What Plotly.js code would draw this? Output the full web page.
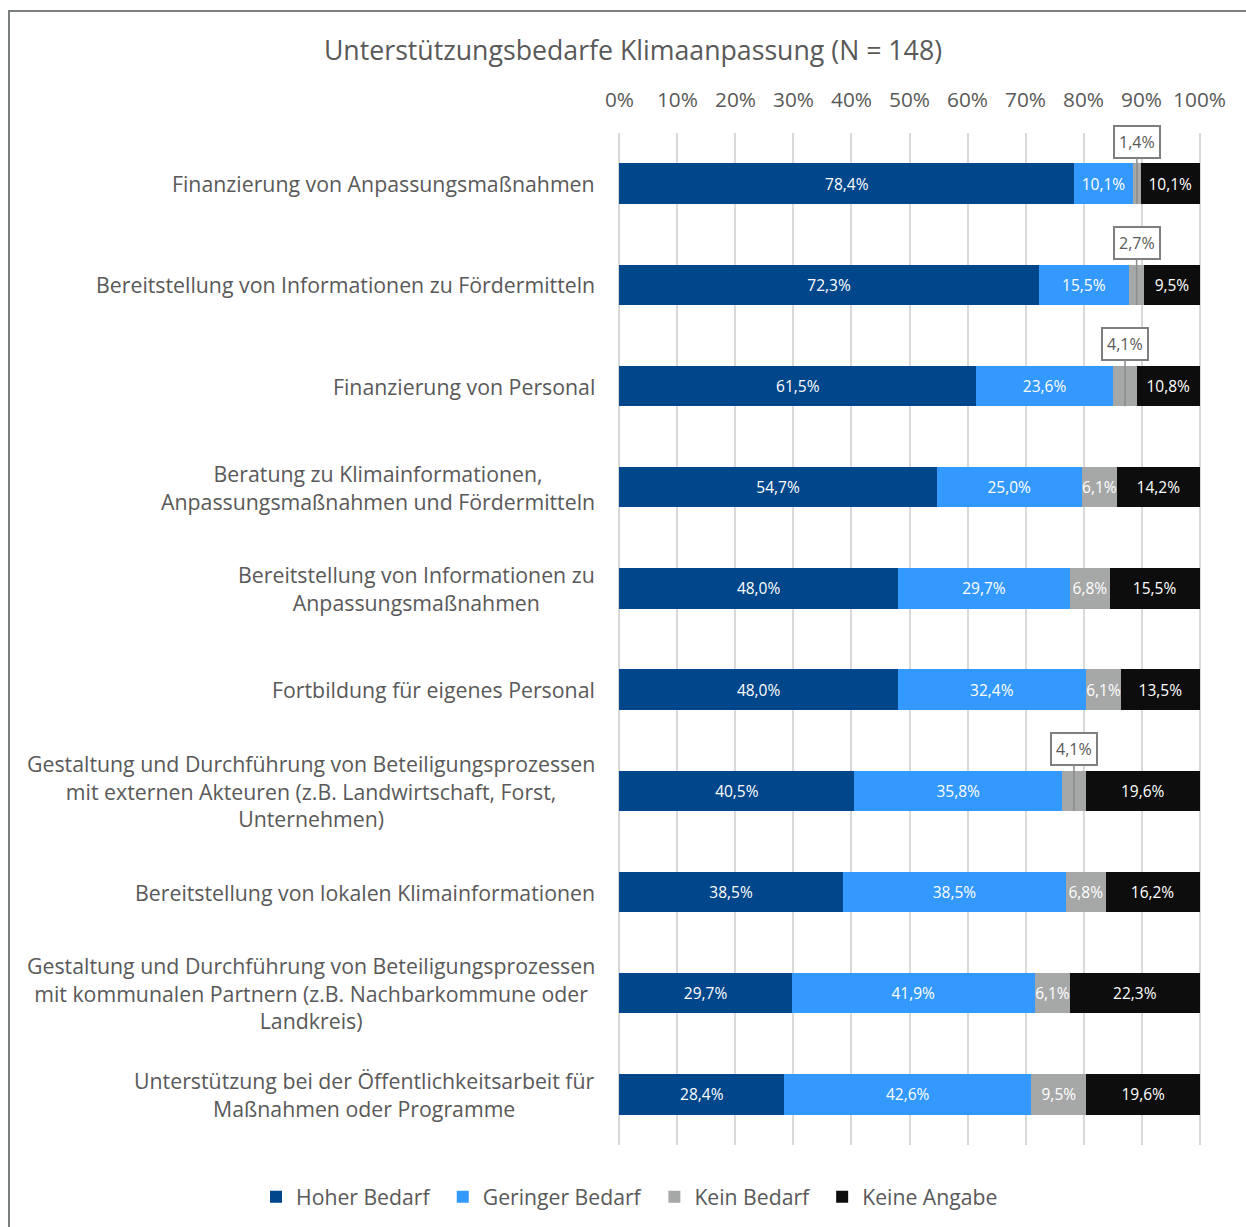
<!DOCTYPE html>
<html>
<head>
<meta charset="utf-8">
<script src="https://cdn.plot.ly/plotly-3.0.1.min.js"></script>
<style>
  html, body { margin: 0; padding: 0; background: #ffffff; }
  #wrap { position: relative; width: 1246px; height: 1227px; overflow: hidden; }
  #chart { position: absolute; left: 0; top: 0; width: 1246px; height: 1227px; }
  #frame { position: absolute; left: 8px; top: 10px; width: 1300px; height: 1300px;
           border-left: 2px solid #7b7f80; border-top: 2px solid #7b7f80; pointer-events: none; }
</style>
</head>
<body>
<div id="wrap">
  <div id="chart"></div>
  <div id="frame"></div>
</div>
<script>
const categories = [
  "Finanzierung von Anpassungsmaßnahmen",
  "Bereitstellung von Informationen zu Fördermitteln",
  "Finanzierung von Personal",
  "Beratung zu Klimainformationen,<br>Anpassungsmaßnahmen und Fördermitteln",
  "Bereitstellung von Informationen zu<br>Anpassungsmaßnahmen",
  "Fortbildung für eigenes Personal",
  "Gestaltung und Durchführung von Beteiligungsprozessen<br>mit externen Akteuren (z.B. Landwirtschaft, Forst,<br>Unternehmen)",
  "Bereitstellung von lokalen Klimainformationen",
  "Gestaltung und Durchführung von Beteiligungsprozessen<br>mit kommunalen Partnern (z.B. Nachbarkommune oder<br>Landkreis)",
  "Unterstützung bei der Öffentlichkeitsarbeit für<br>Maßnahmen oder Programme"
];
const hoherBedarf    = [78.4, 72.3, 61.5, 54.7, 48.0, 48.0, 40.5, 38.5, 29.7, 28.4];
const geringerBedarf = [10.1, 15.5, 23.6, 25.0, 29.7, 32.4, 35.8, 38.5, 41.9, 42.6];
const keinBedarf     = [1.4, 2.7, 4.1, 6.1, 6.8, 6.1, 4.1, 6.8, 6.1, 9.5];
const keineAngabe    = [10.1, 9.5, 10.8, 14.2, 15.5, 13.5, 19.6, 16.2, 22.3, 19.6];
const seriesNames = ["Hoher Bedarf", "Geringer Bedarf", "Kein Bedarf", "Keine Angabe"];
const xTickVals = [0, 10, 20, 30, 40, 50, 60, 70, 80, 90, 100];
const xTickText = ["0%", "10%", "20%", "30%", "40%", "50%", "60%", "70%", "80%", "90%", "100%"];

const colors = ["#00468b", "#3399ff", "#a6a8a8", "#0d0d0d"];
const fmt = v => v.toFixed(1).replace(".", ",") + "%";
const calloutLimit = 5;
const legendIds = ["legend", "legend2", "legend3", "legend4"];
const legendX = [-0.6209, -0.3006, 0.0624, 0.3502];

const seriesData = [hoherBedarf, geringerBedarf, keinBedarf, keineAngabe];
const traces = seriesData.map((vals, k) => ({
  type: "bar",
  orientation: "h",
  name: seriesNames[k],
  legend: legendIds[k],
  x: vals,
  y: categories,
  marker: { color: colors[k], line: { width: 0 } },
  text: vals.map(v => (k === 2 && v < calloutLimit) ? "" : fmt(v)),
  textposition: "inside",
  insidetextanchor: "middle",
  textangle: 0,
  constraintext: "none",
  textfont: { family: "Open Sans", size: 15.5, color: "#ffffff" },
  hoverinfo: "name+x"
}));

const annotations = [];
// category labels (centered multi-line, right edge next to plot)
categories.forEach((c, i) => {
  annotations.push({
    xref: "paper", yref: "y", x: 0, y: i,
    xanchor: "right", yanchor: "middle", xshift: -21,
    text: c, showarrow: false, align: "center",
    font: { family: "Open Sans", size: 21.3, color: "#595959" }
  });
});
// callouts for small "Kein Bedarf" values
keinBedarf.forEach((v, i) => {
  if (v < calloutLimit) {
    annotations.push({
      xref: "x", yref: "y",
      x: hoherBedarf[i] + geringerBedarf[i] + v / 2,
      y: i + 0.2,
      text: fmt(v), showarrow: true, arrowhead: 0, arrowwidth: 1.5,
      arrowcolor: "#8c8c8c", ax: 0, ay: -62, standoff: 0,
      bordercolor: "#7f7f7f", borderwidth: 2, borderpad: 4, bgcolor: "#ffffff",
      font: { family: "Open Sans", size: 16, color: "#595959" }
    });
  }
});

const layout = {
  width: 1246, height: 1227,
  paper_bgcolor: "#ffffff", plot_bgcolor: "#ffffff",
  margin: { l: 617.55, r: 44.55, t: 133, b: 82, pad: 0, autoexpand: false },
  barmode: "stack", bargap: 0.6,
  title: {
    text: "Unterstützungsbedarfe Klimaanpassung (N = 148)",
    font: { family: "Open Sans", size: 26.7, color: "#595959" },
    x: 0.508, xanchor: "center", xref: "container",
    y: 0.959, yanchor: "middle", yref: "container"
  },
  xaxis: {
    side: "top", range: [-0.25, 100.25], fixedrange: true,
    tickvals: xTickVals, ticktext: xTickText,
    showgrid: true, gridcolor: "#d9d9d9", gridwidth: 2,
    zeroline: false, showline: false,
    ticks: "outside", ticklen: 17, tickcolor: "rgba(0,0,0,0)",
    tickfont: { family: "Open Sans", size: 20.8, color: "#595959" }
  },
  yaxis: {
    type: "category", autorange: "reversed",
    showticklabels: false, showgrid: false, zeroline: false, showline: false,
    fixedrange: true
  },
  annotations: annotations,
  showlegend: true
};
legendIds.forEach((id, k) => {
  layout[id] = {
    orientation: "h", xref: "paper", yref: "paper",
    x: legendX[k], xanchor: "left", y: -0.0514, yanchor: "middle",
    font: { family: "Open Sans", size: 21.2, color: "#595959" },
    itemwidth: 30, bgcolor: "rgba(0,0,0,0)"
  };
});

Plotly.newPlot("chart", traces, layout, { displayModeBar: false, staticPlot: true });
</script>
</body>
</html>
